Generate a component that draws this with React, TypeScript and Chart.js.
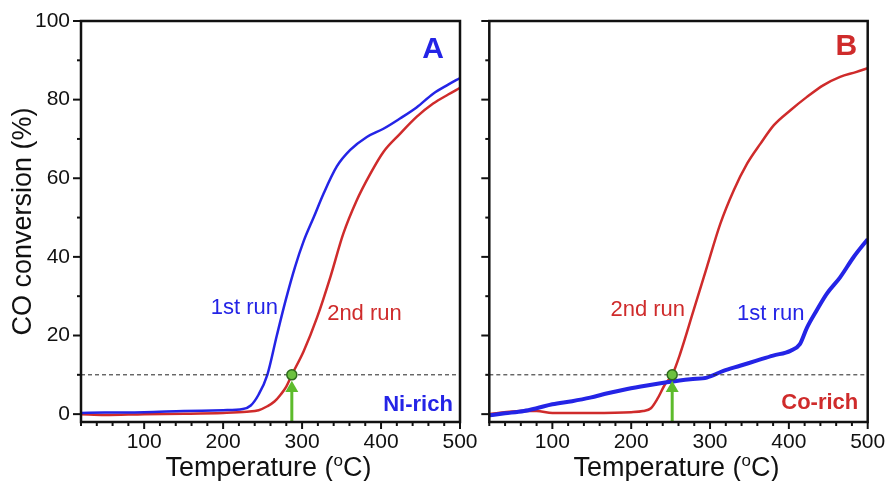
import React, { useEffect, useRef } from 'react';
import { Chart, registerables } from 'chart.js';

Chart.register(...registerables);

// ---------- data ----------
// Panel A (Ni-rich)
const tempA1st = [20, 50, 100, 150, 200, 225, 235, 245, 256, 268, 279, 291, 302, 315, 327, 344, 361, 382, 403, 424, 445, 466, 485, 500];
const convA1st = [0.3, 0.4, 0.5, 0.8, 1.0, 1.3, 2.2, 5.0, 10.0, 20.0, 28.8, 37.4, 44.0, 50.2, 56.0, 63.0, 67.2, 70.5, 72.6, 75.2, 78.0, 81.5, 83.8, 85.5];
const tempA2nd = [20, 50, 100, 150, 200, 230, 245, 256, 265, 273, 280, 287, 302, 319, 336, 352, 369, 386, 403, 424, 445, 466, 485, 500];
const convA2nd = [0.0, -0.2, 0.0, 0.1, 0.3, 0.6, 1.0, 2.0, 3.2, 5.0, 7.0, 10.0, 16.0, 24.6, 35.0, 45.8, 54.3, 61.0, 66.7, 71.3, 75.6, 79.0, 81.3, 83.0];

// Panel B (Co-rich)
const tempB1st = [20, 40, 64, 80, 100, 125, 148, 170, 195, 220, 245, 275, 296, 317, 338, 359, 380, 402, 414, 423, 435, 448, 465, 482, 500];
const convB1st = [-0.3, 0.2, 0.8, 1.5, 2.5, 3.3, 4.2, 5.3, 6.4, 7.3, 8.1, 8.9, 9.3, 11.0, 12.3, 13.6, 14.9, 16.1, 17.8, 22.0, 26.3, 30.6, 34.8, 39.9, 44.5];
const tempB2nd = [20, 60, 80, 100, 150, 200, 215, 225, 233, 243, 252, 262, 279, 296, 313, 330, 347, 364, 381, 402, 423, 444, 465, 485, 500];
const convB2nd = [0.0, 0.8, 0.8, 0.3, 0.3, 0.5, 0.8, 1.5, 3.8, 7.6, 10.0, 15.3, 26.3, 37.4, 48.4, 56.9, 63.7, 68.8, 73.5, 77.3, 80.7, 83.7, 85.8, 87.0, 88.0];

// Axes
const xTickLabels = [100, 200, 300, 400, 500];
const xMinorTicks = [20, 40, 60, 80, 100, 120, 140, 160, 180, 200, 220, 240, 260, 280, 300, 320, 340, 360, 380, 400, 420, 440, 460, 480, 500];
const yTickLabels = [0, 20, 40, 60, 80, 100];
const yMinorTicks = [0, 10, 20, 30, 40, 50, 60, 70, 80, 90, 100];
const xRange = [20, 500];
const yRange = [-2, 100];

// 10 % conversion marker
const thresholdConversion = 10;
const t10A = 287;
const t10B = 252;

// ---------- styling ----------
const BLUE = '#2424e6';
const RED = '#cf2b2b';
const GREEN = '#5dbb2c';
const FONT = '"Liberation Sans", Arial, Helvetica, sans-serif';

const pts = (xs: number[], ys: number[]) => xs.map((x, i) => ({ x, y: ys[i] }));

type Note = { text: string; x: number; y: number; color: string; weight: string; size: number; align: CanvasTextAlign };

const panelPlugin = {
  id: 'panelFrame',
  afterDraw(chart: any, _args: any, opts: any) {
    const { ctx, chartArea: ca, scales } = chart;
    const xs = scales.x;
    const ys = scales.y;
    ctx.save();
    ctx.strokeStyle = '#111';
    ctx.lineWidth = 2;
    for (const v of xMinorTicks) {
      const px = xs.getPixelForValue(v);
      const len = v % 100 === 0 ? 7 : 4;
      ctx.beginPath();
      ctx.moveTo(px, ca.bottom);
      ctx.lineTo(px, ca.bottom + len);
      ctx.stroke();
    }
    for (const v of yMinorTicks) {
      const py = ys.getPixelForValue(v);
      const len = v % 20 === 0 ? 8 : 4;
      ctx.beginPath();
      ctx.moveTo(ca.left, py);
      ctx.lineTo(ca.left - len, py);
      ctx.stroke();
    }
    ctx.lineWidth = 2.5;
    ctx.strokeRect(ca.left, ca.top, ca.right - ca.left, ca.bottom - ca.top);

    // annotations
    const notes: Note[] = opts.notes || [];
    ctx.textBaseline = 'middle';
    for (const n of notes) {
      ctx.font = `${n.weight} ${n.size}px ${FONT}`;
      ctx.fillStyle = n.color;
      ctx.textAlign = n.align;
      ctx.fillText(n.text, xs.getPixelForValue(n.x), ys.getPixelForValue(n.y));
    }

    // x-axis title with superscript o
    const big = `27px ${FONT}`;
    const small = `17px ${FONT}`;
    const p1 = 'Temperature (';
    const p2 = 'o';
    const p3 = 'C)';
    ctx.font = big;
    const w1 = ctx.measureText(p1).width;
    const w3 = ctx.measureText(p3).width;
    ctx.font = small;
    const w2 = ctx.measureText(p2).width;
    const total = w1 + w2 + w3;
    const cx = (ca.left + ca.right) / 2 - 2;
    let x0 = cx - total / 2;
    const base = chart.height - 5;
    ctx.textAlign = 'left';
    ctx.textBaseline = 'alphabetic';
    ctx.fillStyle = '#111';
    ctx.font = big;
    ctx.fillText(p1, x0, base);
    x0 += w1;
    ctx.font = small;
    ctx.fillText(p2, x0, base - 10);
    x0 += w2;
    ctx.font = big;
    ctx.fillText(p3, x0, base);
    ctx.restore();
  },
};

function buildConfig(opts: {
  first: { x: number; y: number }[];
  second: { x: number; y: number }[];
  firstWidth: number;
  t10: number;
  showY: boolean;
  yWidth: number;
  padRight: number;
  notes: Note[];
}): any {
  return {
    type: 'line',
    data: {
      datasets: [
        {
          data: [{ x: opts.t10, y: thresholdConversion }],
          showLine: false,
          pointRadius: 5,
          pointBackgroundColor: '#6cc13f',
          pointBorderColor: '#2e6a1c',
          pointBorderWidth: 1.5,
          order: 0,
        },
        {
          data: [
            { x: opts.t10, y: yRange[0] },
            { x: opts.t10, y: 6.6 },
          ],
          borderColor: GREEN,
          borderWidth: 3,
          pointRadius: [0, 7.5],
          pointStyle: 'triangle',
          pointBackgroundColor: GREEN,
          pointBorderColor: GREEN,
          pointBorderWidth: 0,
          order: 1,
        },
        {
          data: [
            { x: xRange[0], y: thresholdConversion },
            { x: xRange[1], y: thresholdConversion },
          ],
          borderColor: '#222',
          borderWidth: 1,
          borderDash: [4, 3],
          pointRadius: 0,
          order: 2,
        },
        {
          data: opts.second,
          borderColor: RED,
          borderWidth: 2.5,
          pointRadius: 0,
          cubicInterpolationMode: 'monotone',
          order: 4,
        },
        {
          data: opts.first,
          borderColor: BLUE,
          borderWidth: opts.firstWidth,
          pointRadius: 0,
          cubicInterpolationMode: 'monotone',
          order: 3,
        },
      ],
    },
    options: {
      responsive: false,
      animation: false,
      events: [],
      layout: { padding: { left: 0, right: opts.padRight, top: 21, bottom: 0 } },
      plugins: {
        legend: { display: false },
        tooltip: { enabled: false },
        panelFrame: { notes: opts.notes },
      },
      scales: {
        x: {
          type: 'linear',
          min: xRange[0],
          max: xRange[1],
          afterBuildTicks: (s: any) => {
            s.ticks = xTickLabels.map((v) => ({ value: v }));
          },
          afterFit: (s: any) => {
            s.height = 59;
            s.paddingLeft = 0;
            s.paddingRight = 0;
          },
          grid: { display: false, drawTicks: false },
          border: { display: false },
          ticks: {
            autoSkip: false,
            maxRotation: 0,
            padding: 8,
            color: '#111',
            font: { family: FONT, size: 21 },
          },
        },
        y: {
          type: 'linear',
          min: yRange[0],
          max: yRange[1],
          afterBuildTicks: (s: any) => {
            s.ticks = yTickLabels.map((v) => ({ value: v }));
          },
          afterFit: (s: any) => {
            s.width = opts.yWidth;
            s.paddingTop = 0;
            s.paddingBottom = 0;
          },
          grid: { display: false, drawTicks: false },
          border: { display: false },
          ticks: {
            display: opts.showY,
            padding: 11,
            color: '#111',
            font: { family: FONT, size: 21 },
          },
          title: {
            display: opts.showY,
            text: 'CO conversion (%)',
            color: '#111',
            font: { family: FONT, size: 27, lineHeight: 1 },
            padding: { top: 10, bottom: 0 },
          },
        },
      },
    },
    plugins: [panelPlugin],
  };
}

export default function App() {
  const refA = useRef<HTMLCanvasElement>(null);
  const refB = useRef<HTMLCanvasElement>(null);

  useEffect(() => {
    const notesA: Note[] = [
      { text: 'A', x: 466, y: 92.6, color: BLUE, weight: 'bold', size: 30, align: 'center' },
      { text: 'Ni-rich', x: 491, y: 2.4, color: BLUE, weight: 'bold', size: 22, align: 'right' },
      { text: '1st run', x: 227, y: 26.9, color: BLUE, weight: 'normal', size: 22, align: 'center' },
      { text: '2nd run', x: 379, y: 25.6, color: RED, weight: 'normal', size: 22, align: 'center' },
    ];
    const notesB: Note[] = [
      { text: 'B', x: 473, y: 93.4, color: RED, weight: 'bold', size: 30, align: 'center' },
      { text: 'Co-rich', x: 488, y: 2.9, color: RED, weight: 'bold', size: 22, align: 'right' },
      { text: '2nd run', x: 221, y: 26.5, color: RED, weight: 'normal', size: 22, align: 'center' },
      { text: '1st run', x: 377, y: 25.6, color: BLUE, weight: 'normal', size: 22, align: 'center' },
    ];
    const chartA = new Chart(
      refA.current as HTMLCanvasElement,
      buildConfig({
        first: pts(tempA1st, convA1st),
        second: pts(tempA2nd, convA2nd),
        firstWidth: 2.5,
        t10: t10A,
        showY: true,
        yWidth: 81,
        padRight: 20,
        notes: notesA,
      })
    );
    const chartB = new Chart(
      refB.current as HTMLCanvasElement,
      buildConfig({
        first: pts(tempB1st, convB1st),
        second: pts(tempB2nd, convB2nd),
        firstWidth: 4,
        t10: t10B,
        showY: false,
        yWidth: 9.3,
        padRight: 20.3,
        notes: notesB,
      })
    );
    return () => {
      chartA.destroy();
      chartB.destroy();
    };
  }, []);

  return (
    <div style={{ position: 'fixed', left: 0, top: 0, width: 888, height: 481, background: '#fff' }}>
      <canvas ref={refA} width={480} height={481} style={{ position: 'absolute', left: 0, top: 0, width: 480, height: 481 }} />
      <canvas ref={refB} width={408} height={481} style={{ position: 'absolute', left: 480, top: 0, width: 408, height: 481 }} />
    </div>
  );
}
